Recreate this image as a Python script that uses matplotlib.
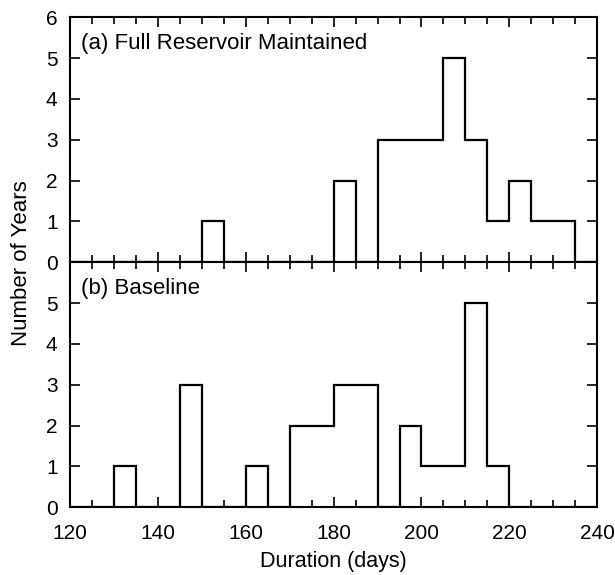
import numpy as np
import matplotlib.pyplot as plt

plt.rcParams['font.family'] = ['Liberation Sans', 'DejaVu Sans']

# 5-day bins from 120 to 240
bin_edges = list(range(120, 245, 5))
full_reservoir = [0, 0, 0, 0, 0, 0, 1, 0, 0, 0, 0, 0, 2, 0, 3, 3, 3, 5, 3, 1, 2, 1, 1, 0]
baseline = [0, 0, 1, 0, 0, 3, 0, 0, 1, 0, 2, 2, 3, 3, 0, 2, 1, 1, 5, 1, 0, 0, 0, 0]
panel_labels = ["(a) Full Reservoir Maintained", "(b) Baseline"]

fig = plt.figure(figsize=(6.15, 5.75), dpi=100)
ax_a = fig.add_axes([0.114, 0.544, 0.857, 0.426])
ax_b = fig.add_axes([0.114, 0.118, 0.857, 0.426], sharex=ax_a)

for ax, counts, label, top_tick in [(ax_a, full_reservoir, panel_labels[0], 6),
                                    (ax_b, baseline, panel_labels[1], 5)]:
    ax.stairs(counts, bin_edges, color='black', linewidth=1.6, baseline=0)
    ax.set_ylim(0, 6)
    ax.set_xlim(120, 240)
    ax.set_yticks(range(0, top_tick + 1))
    ax.set_xticks(range(120, 241, 20))
    ax.set_xticks(range(120, 241, 5), minor=True)
    ax.tick_params(which='both', direction='in', top=True, right=True, labelsize=15, width=1.2)
    ax.tick_params(which='major', length=7)
    ax.tick_params(which='minor', length=5)
    ax.tick_params(axis='y', which='minor', left=False, right=False)
    ax.tick_params(axis='y', pad=9)
    ax.tick_params(axis='x', pad=12)
    for s in ax.spines.values():
        s.set_linewidth(1.5)
    ax.text(0.021, 0.935, label, transform=ax.transAxes, fontsize=16, va='top', ha='left')

ax_a.tick_params(labelbottom=False)
ax_b.set_xlabel("Duration (days)", fontsize=15.5, labelpad=6)
fig.text(0.035, 0.543, "Number of Years", rotation=90, va='center', ha='center', fontsize=16)

fig.savefig("out.png", dpi=100)
